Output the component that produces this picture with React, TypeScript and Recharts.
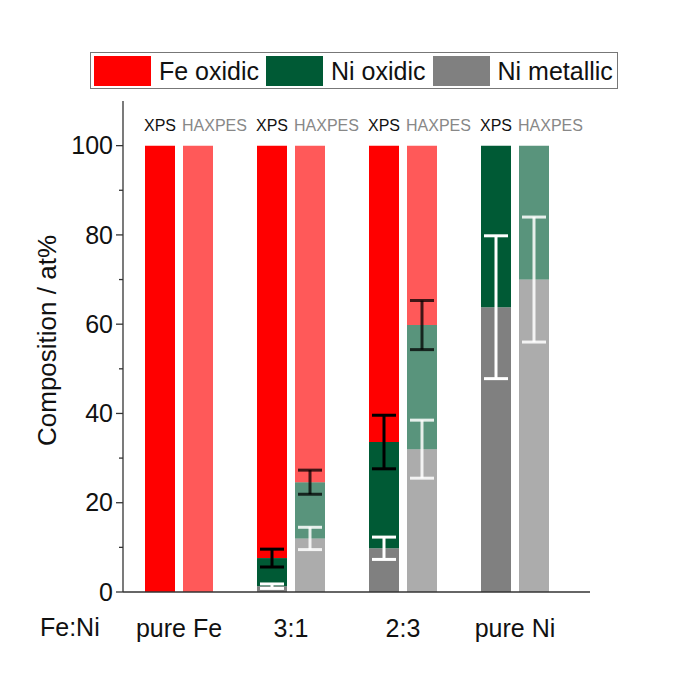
import React from "react";
import {
  BarChart,
  Bar,
  XAxis,
  YAxis,
  ErrorBar,
  ReferenceLine,
} from "recharts";

// composition in at%, bottom to top: Ni metallic, Ni oxidic, Fe oxidic
const categories = ["pure Fe", "3:1", "2:3", "pure Ni"];
const methods = ["XPS", "HAXPES"];

const xpsNiMetallic = [0, 1.3, 9.8, 63.8];
const xpsNiOxidic = [0, 6.3, 23.8, 36.2];
const xpsFeOxidic = [100, 92.4, 66.4, 0];
const xpsNiMetallicErr = [0, 0.5, 2.5, 16];
const xpsNiOxidicErr = [0, 2, 6, 0];

const haxNiMetallic = [0, 12, 32, 70];
const haxNiOxidic = [0, 12.6, 27.8, 30];
const haxFeOxidic = [100, 75.4, 40.2, 0];
const haxNiMetallicErr = [0, 2.5, 6.5, 14];
const haxNiOxidicErr = [0, 2.7, 5.5, 0];

const yTicks = [0, 10, 20, 30, 40, 50, 60, 70, 80, 90, 100];

const legendItems = [
  { name: "Fe oxidic", color: "#ff0000" },
  { name: "Ni oxidic", color: "#005a35" },
  { name: "Ni metallic", color: "#808080" },
];

const data = categories.map((cat, i) => ({
  cat,
  xpsMet: xpsNiMetallic[i],
  xpsNiOx: xpsNiOxidic[i],
  xpsFe: xpsFeOxidic[i],
  xpsMetErr: xpsNiMetallicErr[i],
  xpsNiOxErr: xpsNiOxidicErr[i],
  haxMet: haxNiMetallic[i],
  haxNiOx: haxNiOxidic[i],
  haxFe: haxFeOxidic[i],
  haxMetErr: haxNiMetallicErr[i],
  haxNiOxErr: haxNiOxidicErr[i],
}));

const FONT = "'Liberation Sans', Arial, sans-serif";
const AXIS = "#333";
const HAX_OPACITY = 0.65;
const BAR = 30;
const GAP = 8;

const LeftTick = (props: any) => {
  const { x, y, payload } = props;
  const major = payload.value % 20 === 0;
  return (
    <g>
      <line x1={x - (major ? 7 : 4)} x2={x} y1={y} y2={y} stroke={AXIS} strokeWidth={1.3} />
      {major && (
        <text x={x - 10} y={y} dy="0.35em" textAnchor="end" fontSize={25} fill="#111" fontFamily={FONT}>
          {payload.value}
        </text>
      )}
    </g>
  );
};

const RightTick = (props: any) => {
  const { x, y, payload } = props;
  const major = payload.value % 20 === 0;
  return <line x1={x - (major ? 7 : 4)} x2={x} y1={y} y2={y} stroke={AXIS} strokeWidth={1.3} />;
};

// "XPS" / "HAXPES" above the two bars of each group, left-aligned with each bar
const methodLabels = (p: any) => {
  const vb = p.viewBox;
  const cx = vb.x;
  return (
    <g fontFamily={FONT} fontSize={16}>
      <text x={cx - GAP / 2 - BAR - 1} y={vb.y + 30} fill="#111">{methods[0]}</text>
      <text x={cx + GAP / 2 - 1} y={vb.y + 30} fill="#888">{methods[1]}</text>
    </g>
  );
};

export default function App() {
  return (
    <div style={{ position: "absolute", left: 0, top: 0, width: 685, height: 685, fontFamily: FONT, background: "#fff" }}>
      <div
        style={{
          position: "absolute",
          left: 90,
          top: 52,
          width: 528,
          height: 37,
          border: "1px solid #777",
          display: "flex",
          alignItems: "center",
          boxSizing: "border-box",
          paddingLeft: 3,
          whiteSpace: "nowrap",
        }}
      >
        {legendItems.map((it) => (
          <div key={it.name} style={{ display: "flex", alignItems: "center", marginRight: 7, flexShrink: 0 }}>
            <div style={{ width: 57, height: 30, background: it.color, flexShrink: 0 }} />
            <span style={{ fontSize: 25, marginLeft: 8, color: "#111", lineHeight: "30px" }}>{it.name}</span>
          </div>
        ))}
      </div>
      <div style={{ position: "absolute", left: 40, top: 613, fontSize: 25, color: "#111" }}>Fe:Ni</div>
      <BarChart
        width={685}
        height={685}
        data={data}
        margin={{ top: 101, right: 95, bottom: 53, left: 0 }}
        barSize={BAR}
        barGap={GAP}
      >
        <XAxis
          xAxisId="bottom"
          dataKey="cat"
          height={40}
          padding={{ left: 0, right: 19 }}
          tickSize={0}
          tickMargin={27}
          tickLine={false}
          axisLine={{ stroke: AXIS, strokeWidth: 1.3 }}
          tick={{ fontSize: 25, fill: "#111", fontFamily: FONT }}
        />
        <XAxis
          xAxisId="top"
          dataKey="cat"
          orientation="top"
          height={0}
          tick={false}
          tickLine={false}
          axisLine={{ stroke: AXIS, strokeWidth: 1.3 }}
        />
        <YAxis
          yAxisId="left"
          width={123}
          domain={[0, 110]}
          ticks={yTicks}
          interval={0}
          tickSize={0}
          tickMargin={0}
          tickLine={false}
          tick={<LeftTick />}
          axisLine={{ stroke: AXIS, strokeWidth: 1.3 }}
          label={{
            content: (p: any) => {
              const vb = p.viewBox;
              const cx = 47;
              const cy = vb.y + vb.height / 2 - 6;
              return (
                <text
                  x={cx}
                  y={cy}
                  transform={`rotate(-90, ${cx}, ${cy})`}
                  textAnchor="middle"
                  dominantBaseline="central"
                  fontSize={26}
                  fill="#111"
                  fontFamily={FONT}
                >
                  Composition / at%
                </text>
              );
            },
          }}
        />
        <YAxis
          yAxisId="right"
          orientation="right"
          width={0}
          domain={[0, 110]}
          ticks={yTicks}
          interval={0}
          tickSize={0}
          tickMargin={0}
          tickLine={false}
          tick={<RightTick />}
          axisLine={{ stroke: AXIS, strokeWidth: 1.3 }}
        />

        <Bar xAxisId="bottom" yAxisId="left" dataKey="xpsMet" stackId="xps" fill="#808080" isAnimationActive={false}>
          <ErrorBar dataKey="xpsMetErr" direction="y" width={12} stroke="#fff" strokeWidth={3} />
        </Bar>
        <Bar xAxisId="bottom" yAxisId="left" dataKey="xpsNiOx" stackId="xps" fill="#005a35" isAnimationActive={false}>
          <ErrorBar dataKey="xpsNiOxErr" direction="y" width={12} stroke="#000" strokeWidth={3} />
        </Bar>
        <Bar xAxisId="bottom" yAxisId="left" dataKey="xpsFe" stackId="xps" fill="#ff0000" isAnimationActive={false} />

        <Bar xAxisId="bottom" yAxisId="left" dataKey="haxMet" stackId="hax" fill="#808080" fillOpacity={HAX_OPACITY} isAnimationActive={false}>
          <ErrorBar dataKey="haxMetErr" direction="y" width={12} stroke="#fff" strokeWidth={3} strokeOpacity={0.85} />
        </Bar>
        <Bar xAxisId="bottom" yAxisId="left" dataKey="haxNiOx" stackId="hax" fill="#005a35" fillOpacity={HAX_OPACITY} isAnimationActive={false}>
          <ErrorBar dataKey="haxNiOxErr" direction="y" width={12} stroke="#000" strokeWidth={3} strokeOpacity={0.75} />
        </Bar>
        <Bar xAxisId="bottom" yAxisId="left" dataKey="haxFe" stackId="hax" fill="#ff0000" fillOpacity={HAX_OPACITY} isAnimationActive={false} />

        {categories.map((c) => (
          <ReferenceLine
            key={c}
            x={c}
            xAxisId="bottom"
            yAxisId="left"
            stroke="none"
            label={{ content: methodLabels }}
          />
        ))}
      </BarChart>
    </div>
  );
}
